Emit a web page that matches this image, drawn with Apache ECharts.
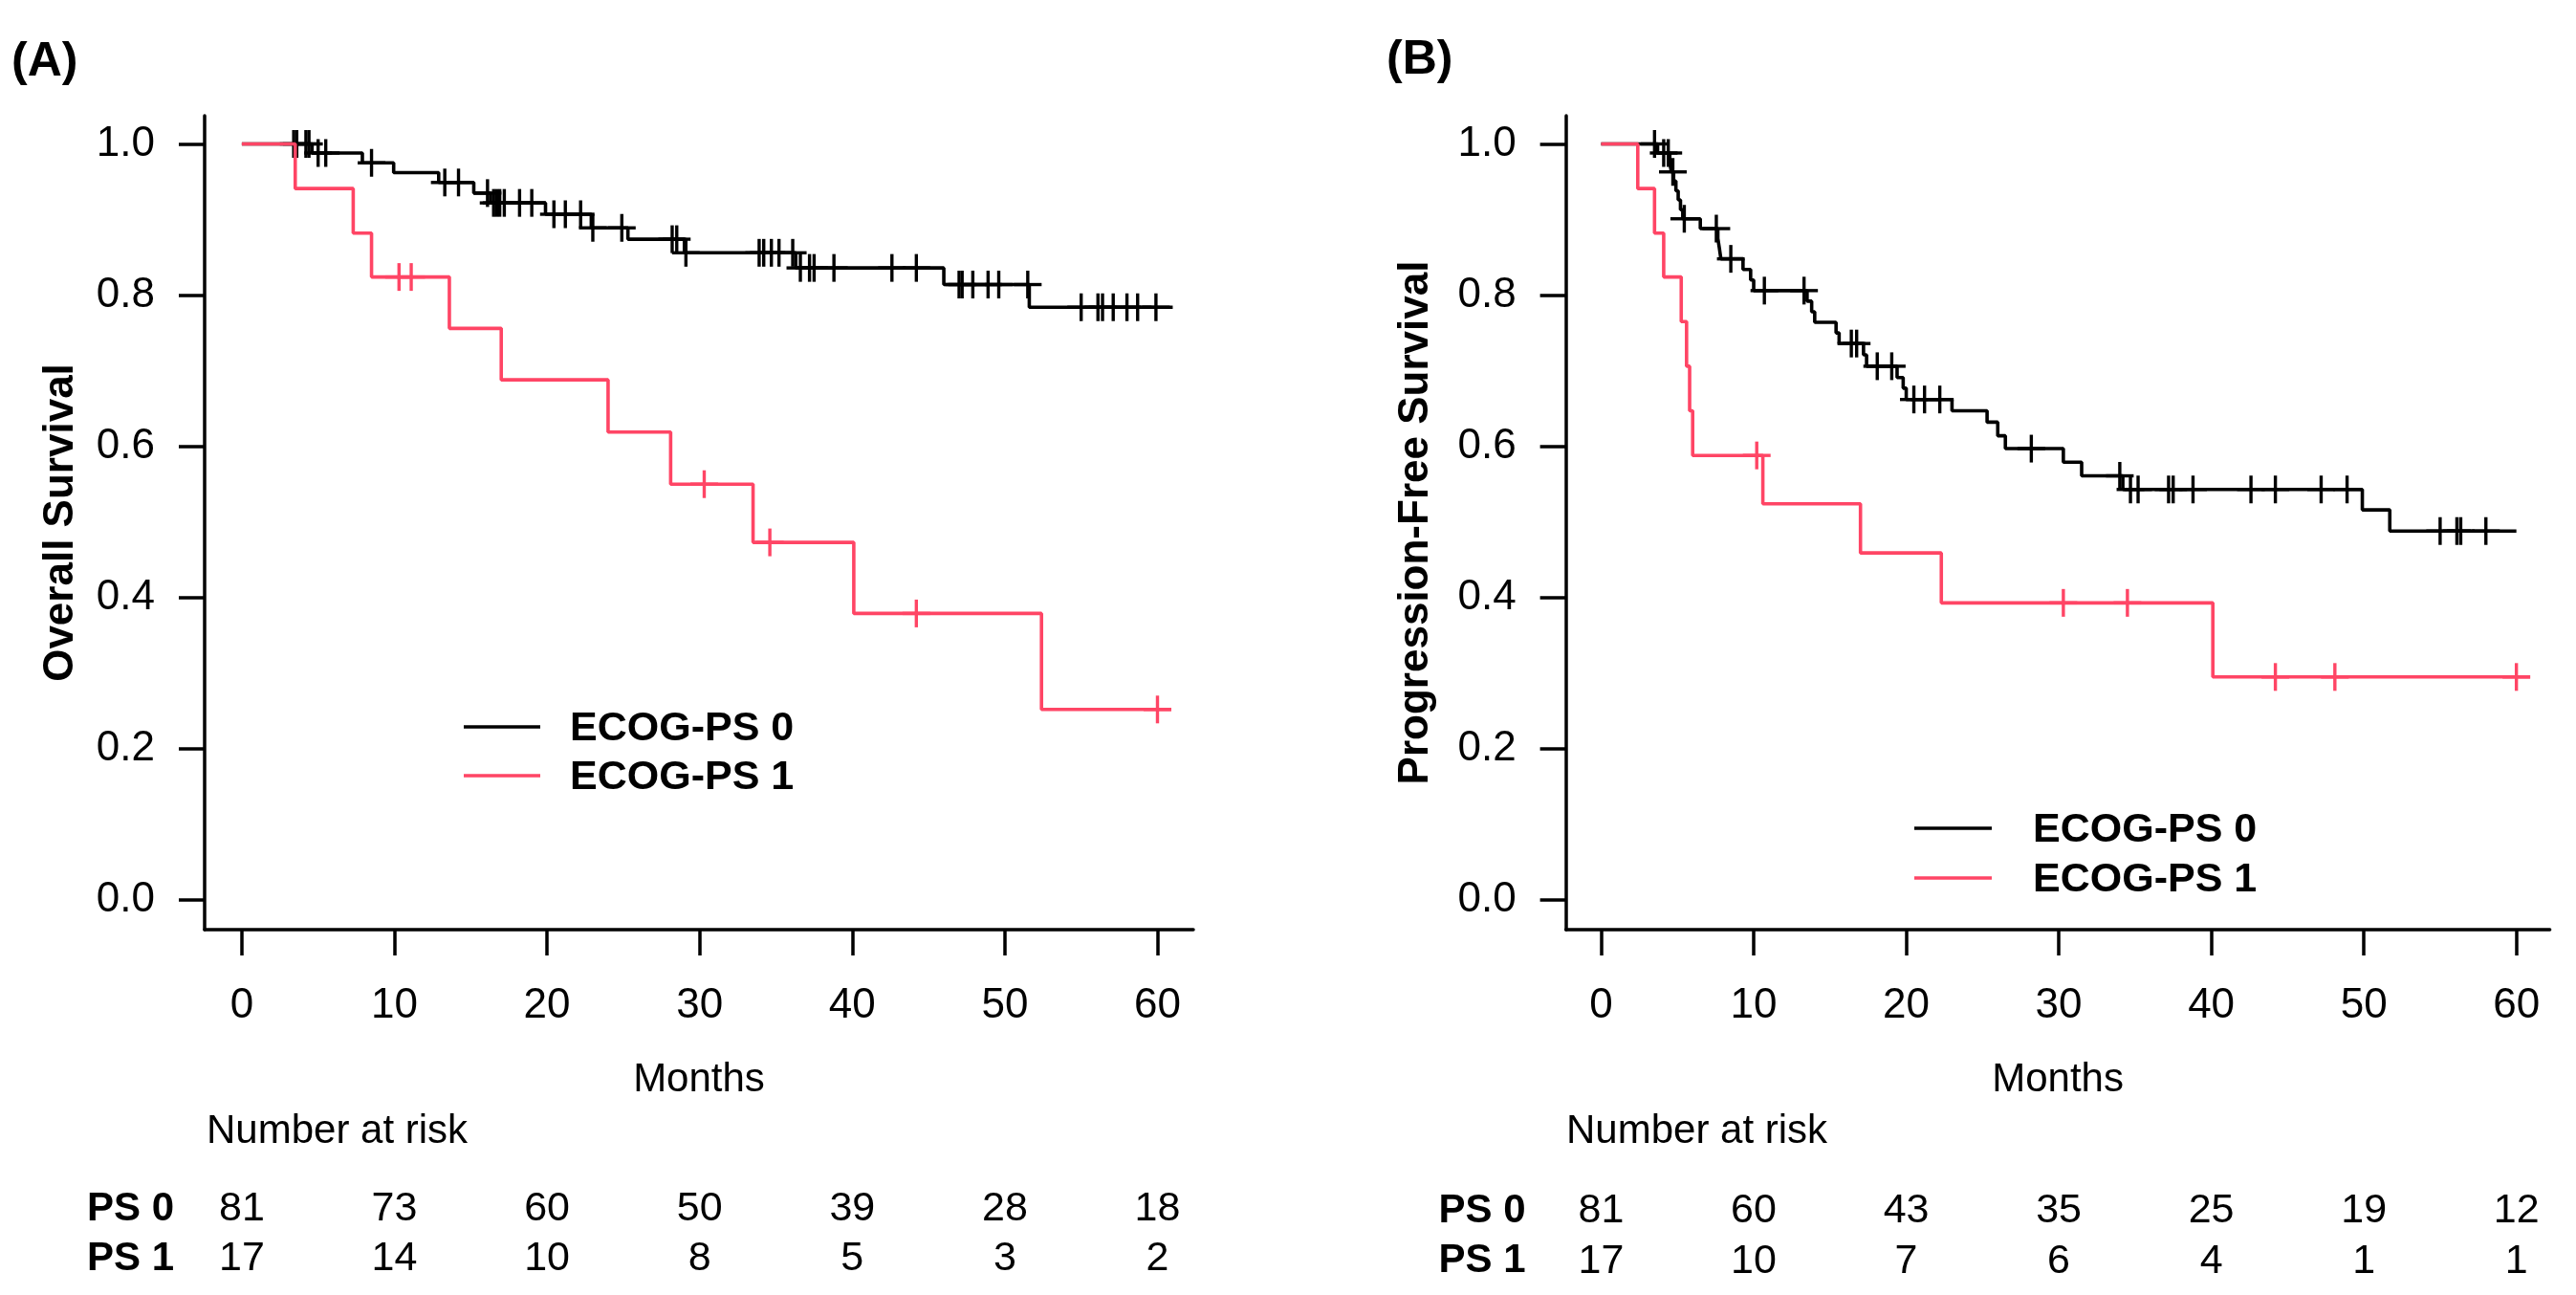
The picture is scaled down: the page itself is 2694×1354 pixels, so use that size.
<!DOCTYPE html>
<html>
<head>
<meta charset="utf-8">
<script src="https://cdn.jsdelivr.net/npm/echarts@6/dist/echarts.min.js"></script>
<style>
  html, body { margin: 0; padding: 0; background: #fff; }
  #container { width: 2694px; height: 1354px; }
</style>
</head>
<body>
<div id="container"></div>
<script>
// Kaplan-Meier curves (step times in months, survival after the step)

const FONT = '"Liberation Sans", Arial, sans-serif';
const BLACK = '#000000';
const RED = '#ff4565';

const tickMonths = [0, 10, 20, 30, 40, 50, 60];
const tickSurv = [0, 0.2, 0.4, 0.6, 0.8, 1.0];

// (A) overall survival
const osPs0Times = [0, 4.6, 7.9, 9.95, 12.9, 15.2, 16.3, 19.9, 22.9, 25.3, 29.0, 36.3, 46.0, 51.6, 61.0];
const osPs0Surv  = [1, 0.988, 0.975, 0.962, 0.949, 0.935, 0.922, 0.907, 0.889, 0.874, 0.856, 0.836, 0.814, 0.784, 0.784];
const osPs0Censor = [3.4, 3.6, 4.2, 4.4, 5.0, 5.5, 8.5, 13.3, 14.2, 16.1, 16.5, 16.7, 16.9, 17.2, 18.2, 19.0,
  20.45, 21.2, 22.2, 23.0, 24.9, 28.2, 28.5, 29.1, 33.9, 34.2, 34.7, 35.2, 36.1, 36.6, 37.2, 37.5, 38.8,
  42.6, 44.2, 47.0, 47.2, 47.9, 48.9, 49.6, 51.5, 55.0, 56.1, 56.4, 57.1, 58.0, 58.7, 59.9];

const osPs1Times = [0, 3.5, 7.3, 8.5, 13.6, 17.0, 24.0, 28.1, 33.5, 40.1, 52.4, 60.9];
const osPs1Surv  = [1, 0.941, 0.882, 0.824, 0.756, 0.688, 0.619, 0.550, 0.473, 0.379, 0.252, 0.252];
const osPs1Censor = [10.3, 11.1, 30.3, 34.6, 44.2, 60.0];

// (B) progression-free survival
const pfsPs0Times = [0, 3.7, 4.5, 4.6, 4.75, 4.9, 5.05, 5.2, 5.35, 6.5, 7.65, 7.75, 7.85, 9.3, 9.8, 10.0,
  13.5, 13.8, 14.0, 15.4, 15.6, 17.2, 17.4, 19.4, 19.8, 20.0, 23.0, 25.3, 26.0, 26.5, 30.3, 31.5, 34.2,
  49.9, 51.7, 60.0];
const pfsPs0Surv  = [1, 0.988, 0.975, 0.963, 0.951, 0.938, 0.926, 0.913, 0.901, 0.888, 0.875, 0.862, 0.848,
  0.834, 0.820, 0.806, 0.792, 0.778, 0.764, 0.750, 0.736, 0.721, 0.706, 0.691, 0.677, 0.662, 0.647, 0.632,
  0.614, 0.597, 0.579, 0.561, 0.543, 0.516, 0.488, 0.488];
const pfsPs0Censor = [3.5, 4.1, 4.4, 4.7, 5.45, 7.55, 8.5, 10.7, 13.3, 16.4, 16.75, 18.1, 19.05, 20.5, 21.2,
  22.2, 28.2, 34.0, 34.7, 35.2, 37.2, 37.5, 38.8, 42.6, 44.2, 47.2, 48.9, 55.0, 56.1, 56.35, 58.0];

const pfsPs1Times = [0, 2.4, 3.5, 4.1, 5.25, 5.6, 5.8, 6.0, 10.6, 17.0, 22.3, 40.1, 60.9];
const pfsPs1Surv  = [1, 0.941, 0.882, 0.824, 0.765, 0.706, 0.647, 0.588, 0.524, 0.459, 0.393, 0.295, 0.295];
const pfsPs1Censor = [10.2, 30.3, 34.5, 44.2, 48.1, 60.0];

// number at risk at 0, 10, ..., 60 months
const riskRows = ['PS 0', 'PS 1'];
const riskA_ps0 = [81, 73, 60, 50, 39, 28, 18];
const riskA_ps1 = [17, 14, 10, 8, 5, 3, 2];
const riskB_ps0 = [81, 60, 43, 35, 25, 19, 12];
const riskB_ps1 = [17, 10, 7, 6, 4, 1, 1];

function survAt(times, surv, t) {
  let s = surv[0];
  for (let i = 0; i < times.length; i++) {
    if (times[i] <= t) s = surv[i];
  }
  return s;
}

function kmLine(times, surv, color, axis) {
  return {
    type: 'line', step: 'end', symbol: 'none', silent: true,
    xAxisIndex: axis, yAxisIndex: axis,
    data: times.map((t, i) => [t, surv[i]]),
    lineStyle: { color: color, width: 3.6 }
  };
}

function censorMarks(times, surv, censor, color, axis) {
  return {
    type: 'custom', silent: true,
    xAxisIndex: axis, yAxisIndex: axis,
    data: censor.map(t => [t, survAt(times, surv, t)]),
    renderItem: function (params, api) {
      const p = api.coord([api.value(0), api.value(1)]);
      const h = 14.5;
      const st = { stroke: color, lineWidth: 3.4 };
      return {
        type: 'group',
        children: [
          { type: 'line', shape: { x1: p[0], y1: p[1] - h, x2: p[0], y2: p[1] + h }, style: st },
          { type: 'line', shape: { x1: p[0] - h, y1: p[1], x2: p[0] + h, y2: p[1] }, style: st }
        ]
      };
    }
  };
}

function riskText(ps0, ps1, axis) {
  const data = [];
  tickMonths.forEach((t, i) => {
    data.push([t, 0, ps0[i]]);
    data.push([t, 1, ps1[i]]);
  });
  return {
    type: 'custom', silent: true,
    xAxisIndex: axis, yAxisIndex: axis,
    data: data,
    renderItem: function (params, api) {
      const p = api.coord([api.value(0), api.value(1)]);
      return {
        type: 'text', x: p[0], y: p[1],
        style: {
          text: String(api.value(2)), fill: '#000', fontSize: 43, fontFamily: FONT,
          align: 'center', verticalAlign: 'middle'
        }
      };
    }
  };
}

function mainX(grid, min, max) {
  return {
    gridIndex: grid, type: 'value', min: min, max: max,
    name: 'Months', nameLocation: 'middle', nameGap: 136,
    nameTextStyle: { fontSize: 42, color: '#000', fontFamily: FONT },
    axisLine: { show: true, onZero: false, lineStyle: { color: '#000', width: 3.5 } },
    axisTick: { show: true, customValues: tickMonths, length: 27, lineStyle: { color: '#000', width: 3.5 } },
    axisLabel: { customValues: tickMonths, margin: 58, fontSize: 44, color: '#000', fontFamily: FONT },
    splitLine: { show: false }
  };
}

function mainY(grid, title, gap) {
  return {
    gridIndex: grid, type: 'value', min: -0.0392, max: 1.0373,
    name: title, nameLocation: 'middle', nameGap: gap,
    nameTextStyle: { fontSize: 44, fontWeight: 'bold', color: '#000', fontFamily: FONT },
    axisLine: { show: true, onZero: false, lineStyle: { color: '#000', width: 3.5 } },
    axisTick: { show: true, customValues: tickSurv, length: 27, lineStyle: { color: '#000', width: 3.5 } },
    axisLabel: {
      customValues: tickSurv, margin: 52, fontSize: 44, color: '#000', fontFamily: FONT,
      formatter: v => v.toFixed(1)
    },
    splitLine: { show: false }
  };
}

function riskX(grid, min, max) {
  return { gridIndex: grid, type: 'value', min: min, max: max, show: false };
}

function riskY(grid, margin) {
  return {
    gridIndex: grid, type: 'category', data: riskRows, inverse: true,
    axisLine: { show: false }, axisTick: { show: false }, splitLine: { show: false },
    axisLabel: { interval: 0, margin: margin, fontSize: 42, fontWeight: 'bold', color: '#000', fontFamily: FONT }
  };
}

function legend(x1, x2, textX, y0, y1) {
  const t = (txt, y) => ({
    type: 'text', x: textX, y: y,
    style: { text: txt, fontSize: 43, fontWeight: 'bold', fill: '#000', fontFamily: FONT, verticalAlign: 'middle' }
  });
  return [
    { type: 'line', shape: { x1: x1, y1: y0, x2: x2, y2: y0 }, style: { stroke: BLACK, lineWidth: 3.6 } },
    { type: 'line', shape: { x1: x1, y1: y1, x2: x2, y2: y1 }, style: { stroke: RED, lineWidth: 3.6 } },
    t('ECOG-PS 0', y0 + 2),
    t('ECOG-PS 1', y1 + 2)
  ];
}

function plainText(txt, x, y, size, weight) {
  return {
    type: 'text', x: x, y: y,
    style: { text: txt, fontSize: size, fontWeight: weight, fill: '#000', fontFamily: FONT, verticalAlign: 'middle' }
  };
}

const chart = echarts.init(document.getElementById('container'), null, { renderer: 'canvas' });

const option = {
  animation: false,
  backgroundColor: '#fff',
  grid: [
    { left: 214, top: 121, width: 1034, height: 851 },
    { left: 1637.6, top: 121, width: 1029, height: 851 },
    { left: 214, top: 1238.5, width: 1034, height: 104 },
    { left: 1637.6, top: 1240, width: 1029, height: 105 }
  ],
  xAxis: [
    mainX(0, -2.437, 62.35),
    mainX(1, -2.313, 62.19),
    riskX(2, -2.437, 62.35),
    riskX(3, -2.313, 62.19)
  ],
  yAxis: [
    mainY(0, 'Overall Survival', 128),
    mainY(1, 'Progression-Free Survival', 135),
    riskY(2, 32),
    riskY(3, 42)
  ],
  series: [
    kmLine(osPs0Times, osPs0Surv, BLACK, 0),
    censorMarks(osPs0Times, osPs0Surv, osPs0Censor, BLACK, 0),
    kmLine(osPs1Times, osPs1Surv, RED, 0),
    censorMarks(osPs1Times, osPs1Surv, osPs1Censor, RED, 0),
    kmLine(pfsPs0Times, pfsPs0Surv, BLACK, 1),
    censorMarks(pfsPs0Times, pfsPs0Surv, pfsPs0Censor, BLACK, 1),
    kmLine(pfsPs1Times, pfsPs1Surv, RED, 1),
    censorMarks(pfsPs1Times, pfsPs1Surv, pfsPs1Censor, RED, 1),
    riskText(riskA_ps0, riskA_ps1, 2),
    riskText(riskB_ps0, riskB_ps1, 3)
  ],
  graphic: [
    plainText('(A)', 12, 65, 50, 'bold'),
    plainText('(B)', 1450, 63, 50, 'bold'),
    plainText('Number at risk', 216, 1183, 42, 'normal'),
    plainText('Number at risk', 1638, 1183, 42, 'normal'),
    ...legend(485, 565, 596, 760, 811),
    ...legend(2002, 2083, 2126, 866, 918)
  ]
};

chart.setOption(option);
window.addEventListener('resize', () => chart.resize());
</script>
</body>
</html>
